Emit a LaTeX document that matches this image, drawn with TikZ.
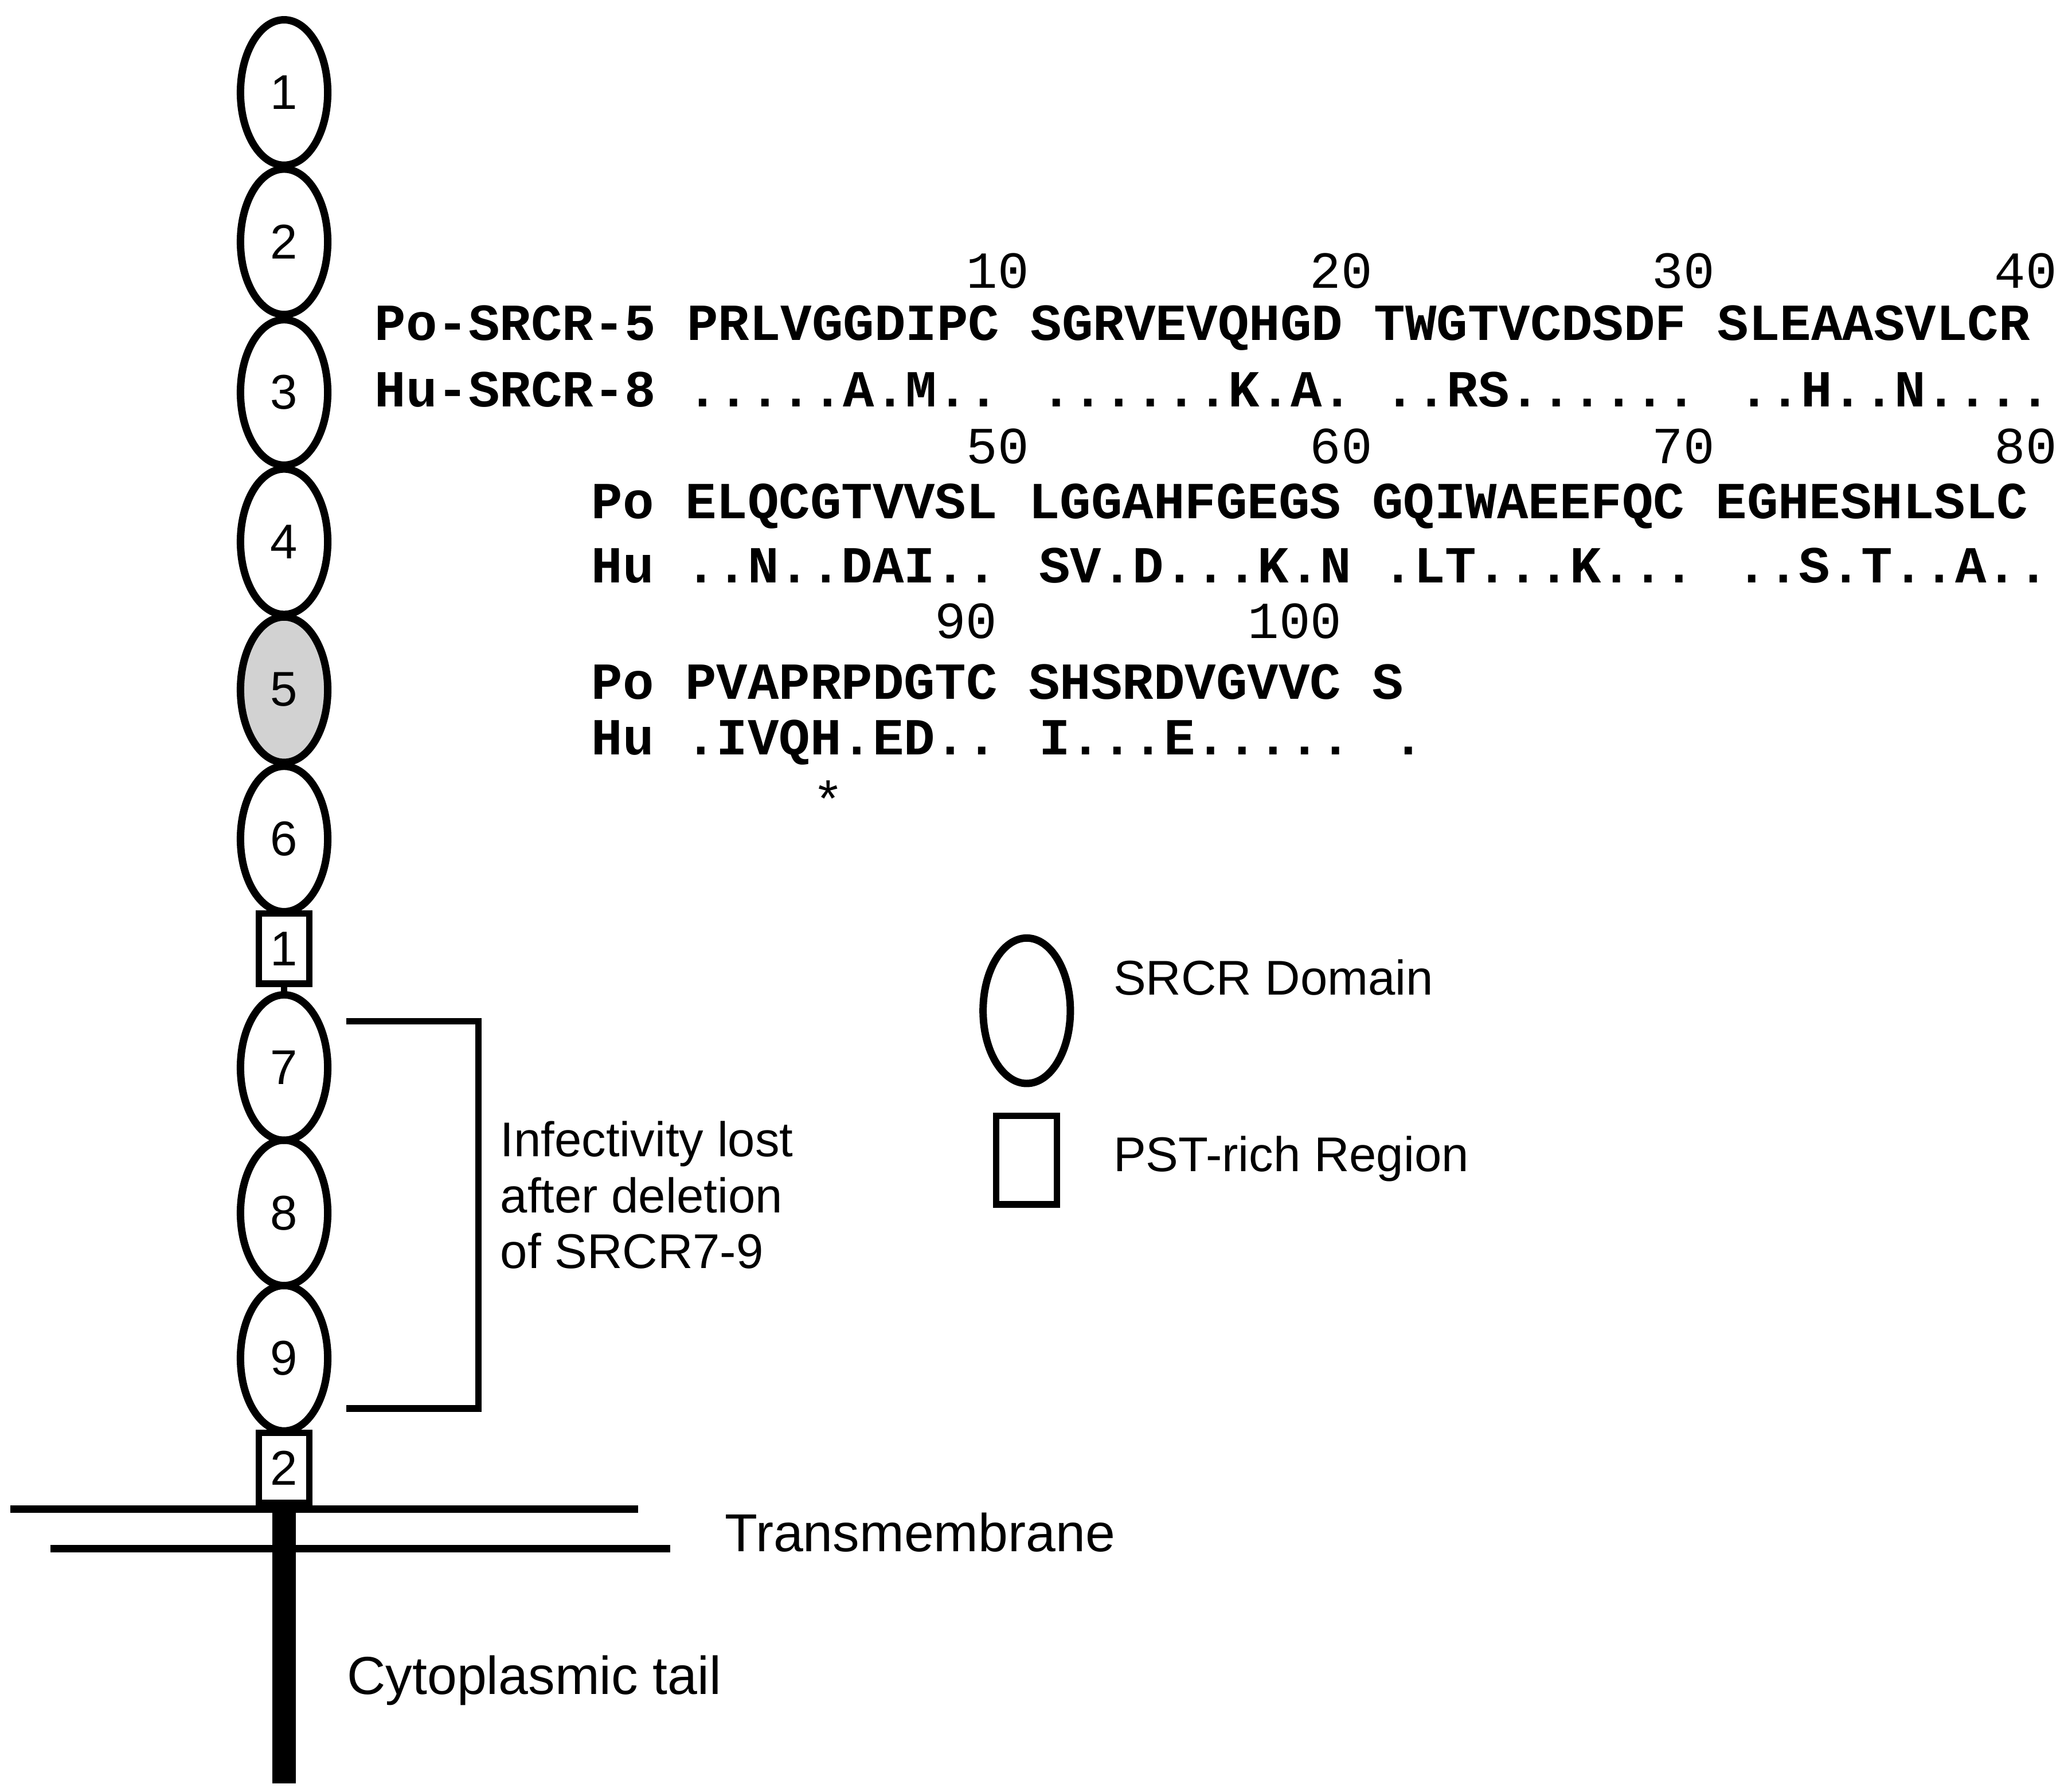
\documentclass[tikz,border=0pt]{standalone}
\usepackage{fontspec}
\usetikzlibrary{shapes.geometric}
\setmainfont{Liberation Sans}
\newfontfamily\seqfont{Liberation Mono}
\begin{document}
\begin{tikzpicture}[x=0.01cm,y=-0.01cm,
 dom/.style={draw,line width=1.6pt,ellipse,minimum width=0.66cm,minimum height=1.1cm,inner sep=0pt,font=\fontsize{10.5pt}{12pt}\selectfont},
 pst/.style={draw,line width=1.4pt,rectangle,minimum width=0.38cm,minimum height=0.53cm,inner sep=0pt,font=\fontsize{10.5pt}{12pt}\selectfont},
 lbl/.style={anchor=west,inner sep=0pt,font=\fontsize{10.5pt}{12pt}\selectfont},
 seq/.style={anchor=west,inner sep=0pt,font=\fontsize{11.2pt}{13pt}\seqfont\bfseries},
 num/.style={inner sep=0pt,font=\fontsize{11.2pt}{13pt}\seqfont}]
\useasboundingbox (0,0) rectangle (1562,1356);
% chain
\draw[line width=1.4pt] (215,745) -- (215,753);
\node[dom] (d1) at (215,70) {1};
\node[dom] (d2) at (215,183) {2};
\node[dom] (d3) at (215,297) {3};
\node[dom] (d4) at (215,410) {4};
\node[dom,fill=gray!35] (d5) at (215,522) {5};
\node[dom] (d6) at (215,635) {6};
\node[pst] (p1) at (215,718) {1};
\node[dom] (d7) at (215,808) {7};
\node[dom] (d8) at (215,918) {8};
\node[dom] (d9) at (215,1028) {9};
\node[pst] (p2) at (215,1111) {2};
% membrane
\draw[line width=1.6pt] (8,1142) -- (483,1142);
\draw[line width=1.6pt] (38,1172) -- (507,1172);
\coordinate (tailend) at (215,1350);
\draw[line width=5pt] (p2.south) -- (tailend);
\node[lbl,font=\fontsize{11.5pt}{13pt}\selectfont] (tm) at (548,1160) {Transmembrane};
\node[lbl,font=\fontsize{11.5pt}{13pt}\selectfont] (ct) at (262,1272) {Cytoplasmic tail};
% bracket
\coordinate (b1) at (262,773); \coordinate (b2) at (362,773);
\coordinate (b3) at (362,1066); \coordinate (b4) at (262,1066);
\draw[line width=1.4pt] (b1) -- (b2) -- (b3) -- (b4);
\node[lbl,align=left,anchor=north west] (inf) at (378,848) {Infectivity lost\\after deletion\\of SRCR7-9};
% legend
\node[dom] (ld) at (777,765) {};
\node[pst,minimum width=0.46cm,minimum height=0.67cm] (lp) at (777,878) {};
\node[lbl] (ldt) at (842,740) {SRCR Domain};
\node[lbl] (lpt) at (842,877) {PST-rich Region};
% alignment
\node[num] at (755,205) {10};
\node[num] at (1015,205) {20};
\node[num] at (1274,205) {30};
\node[num] at (1533,205) {40};
\node[seq] at (283,248) {Po-SRCR-5 PRLVGGDIPC SGRVEVQHGD TWGTVCDSDF SLEAASVLCR};
\node[seq] at (283,295) {Hu-SRCR-8 .....A.M.. ......K.A. ..RS...... ..H..N....};
\node[num] at (755,338) {50};
\node[num] at (1015,338) {60};
\node[num] at (1274,338) {70};
\node[num] at (1533,338) {80};
\node[seq] at (447,383) {Po ELQCGTVVSL LGGAHFGEGS GQIWAEEFQC EGHESHLSLC};
\node[seq] at (447,428) {Hu ..N..DAI.. SV.D...K.N .LT...K... ..S.T..A..};
\node[num] at (731,470) {90};
\node[num] at (980,470) {100};
\node[seq] at (447,516) {Po PVAPRPDGTC SHSRDVGVVC S};
\node[seq] at (447,562) {Hu .IVQH.ED.. I...E..... .};
\node[num] at (627,605) {*};
\end{tikzpicture}
\end{document}
